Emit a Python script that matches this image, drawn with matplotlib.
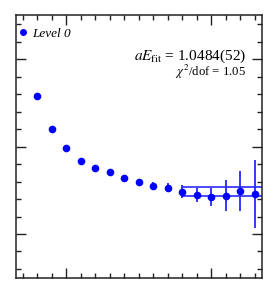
import numpy as np
import matplotlib
matplotlib.use('Agg')
import matplotlib.pyplot as plt
from matplotlib.lines import Line2D
from matplotlib.ticker import MultipleLocator

plt.rcParams['mathtext.fontset'] = 'stix'
plt.rcParams['font.family'] = ['Liberation Serif', 'DejaVu Serif']

# effective energy data
t = np.arange(8, 24)
aE = [1.1579, 1.1198, 1.0980, 1.0839, 1.0759, 1.0709, 1.0641, 1.0591,
      1.0549, 1.0530, 1.0484, 1.0443, 1.0420, 1.0438, 1.0489, 1.0454]
aE_err = [0.0015, 0.0015, 0.0018, 0.0022, 0.0024, 0.0026, 0.0030, 0.0036,
          0.0048, 0.0054, 0.0074, 0.0082, 0.0105, 0.0180, 0.0227, 0.0390]

fit_value = 1.0484
fit_err = 0.0052
fit_tmin, fit_tmax = 18, 24
chi2_dof = 1.05

fig = plt.figure(figsize=(2.78, 2.94), dpi=100)
ax = fig.add_axes([0.0558, 0.0554, 0.8866, 0.8919])

ax.errorbar(t, aE, yerr=aE_err, fmt='o', color='blue', ms=5.5, mew=0,
            elinewidth=1.1, capsize=2.6, capthick=1.1)

# fit band (upper and lower edges)
for edge in (fit_value + fit_err, fit_value - fit_err):
    ax.plot([fit_tmin, fit_tmax], [edge, edge], color='#2a2aff', lw=1.2)

ax.set_xlim(6.5, 23.5)
ax.set_ylim(0.95, 1.25)

ax.xaxis.set_major_locator(MultipleLocator(10))
ax.xaxis.set_minor_locator(MultipleLocator(1))
ax.yaxis.set_major_locator(MultipleLocator(0.1))
ax.yaxis.set_minor_locator(MultipleLocator(0.02))
ax.tick_params(which='both', direction='in', top=True, right=True,
               labelbottom=False, labelleft=False, color='#222222', width=1)
ax.tick_params(which='major', length=7)
ax.tick_params(which='minor', length=3.6)
for s in ax.spines.values():
    s.set_linewidth(1.1)
    s.set_color('#222222')

handle = Line2D([], [], marker='o', ls='none', color='blue', ms=5, mew=0)
ax.legend([handle], ['Level 0'], loc='upper left', bbox_to_anchor=(0.016, 0.953),
          frameon=False, handlelength=0.5, handletextpad=0.45, borderpad=0,
          borderaxespad=0,
          prop={'family': 'Liberation Serif', 'style': 'italic', 'size': 9.5})

ax.text(0.934, 0.846, r'$aE_{\rm fit}$ = %.4f(%d)' % (fit_value, round(fit_err * 1e4)),
        transform=ax.transAxes, ha='right', va='center', fontsize=11)
ax.text(0.934, 0.783, r'$\chi^2$/dof = %.2f' % chi2_dof,
        transform=ax.transAxes, ha='right', va='center', fontsize=9.2)

fig.savefig('out.png', dpi=100)
